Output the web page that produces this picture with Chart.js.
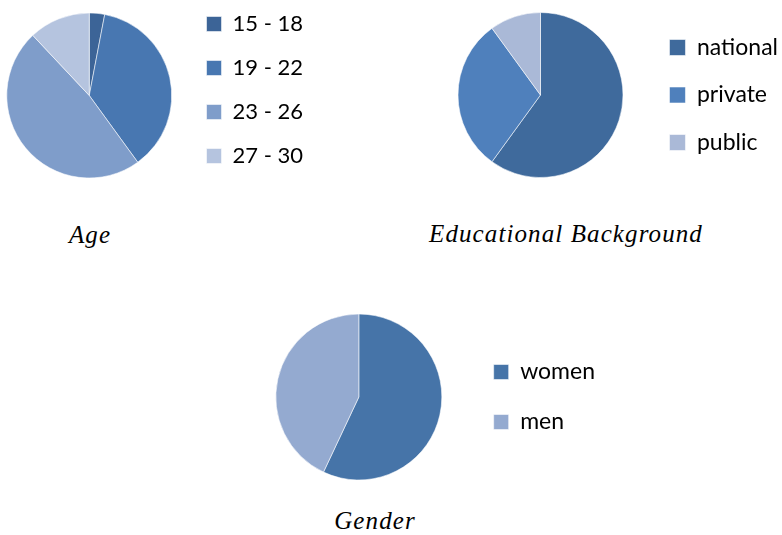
<!DOCTYPE html>
<html>
<head>
<meta charset="utf-8">
<script src="https://cdn.jsdelivr.net/npm/chart.js@4.4.1/dist/chart.umd.min.js"></script>
<style>
  html, body { margin: 0; padding: 0; background: #fff; }
  body { width: 782px; height: 535px; position: relative; overflow: hidden; }
  canvas { position: absolute; }
  .cap {
    position: absolute; width: 300px; text-align: center;
    font-family: "Liberation Serif", "Times New Roman", serif;
    font-style: italic; font-size: 25px; line-height: 25px; color: #000;
    letter-spacing: 1.1px;
  }
</style>
</head>
<body>
<canvas id="age" height="209" style="left:-6px;top:-9px"></canvas>
<canvas id="edu" height="200" style="left:436px;top:-5px"></canvas>
<canvas id="gender" height="200" style="left:251px;top:297px"></canvas>
<div class="cap" style="left:-60px;top:222px">Age</div>
<div class="cap" style="left:416px;top:221px">Educational Background</div>
<div class="cap" style="left:225px;top:508px">Gender</div>
<script>
// age groups
var ageLabels = ["15 - 18", "19 - 22", "23 - 26", "27 - 30"];
var ageValues = [3, 37, 48, 12];
var ageColors = ["#3c6497", "#4877b1", "#7f9dca", "#b5c4df"];

// educational background
var eduLabels = ["national", "private", "public"];
var eduValues = [60, 30, 10];
var eduColors = ["#3f6a9c", "#4f80bc", "#aab9d7"];

// gender
var genderLabels = ["women", "men"];
var genderValues = [57, 43];
var genderColors = ["#4674a8", "#94aad0"];

Chart.defaults.animation = false;

// width the legend will take, so the canvas can be sized to put it where we want
function legendWidth(ctx, labels, o) {
    ctx.font = "normal " + o.font + "px Lato";
    var w = 0;
    labels.forEach(function (t) { w = Math.max(w, ctx.measureText(t).width); });
    return o.gap + o.box + o.font / 2 + w + 10;
}

function pie(id, labels, values, colors, o) {
    var cv = document.getElementById(id);
    var ctx = cv.getContext("2d");
    // o.legendLeft: where the legend starts, in canvas px
    cv.width = Math.round(o.legendLeft + legendWidth(ctx, labels, o));
    return new Chart(ctx, {
        type: "pie",
        data: {
            labels: labels,
            datasets: [{
                data: values,
                backgroundColor: colors,
                borderColor: "rgba(255,255,255,0.55)",
                borderWidth: 1,
                radius: o.radius
            }]
        },
        options: {
            responsive: false,
            layout: { padding: 0 },
            plugins: {
                tooltip: { enabled: false },
                legend: {
                    position: "right",
                    align: o.align,
                    labels: {
                        boxWidth: o.box,
                        boxHeight: o.box,
                        padding: o.gap,
                        color: "#000",
                        font: { family: "Lato", size: o.font }
                    }
                }
            }
        }
    });
}

pie("age", ageLabels, ageValues, ageColors,
    { radius: 82.5, legendLeft: 191, align: "start", box: 15, gap: 22, font: 22 });
pie("edu", eduLabels, eduValues, eduColors,
    { radius: 82.5, legendLeft: 208.5, align: "center", box: 16, gap: 24.5, font: 23 });
pie("gender", genderLabels, genderValues, genderColors,
    { radius: 83, legendLeft: 216, align: "center", box: 15, gap: 27, font: 23 });
</script>
</body>
</html>
